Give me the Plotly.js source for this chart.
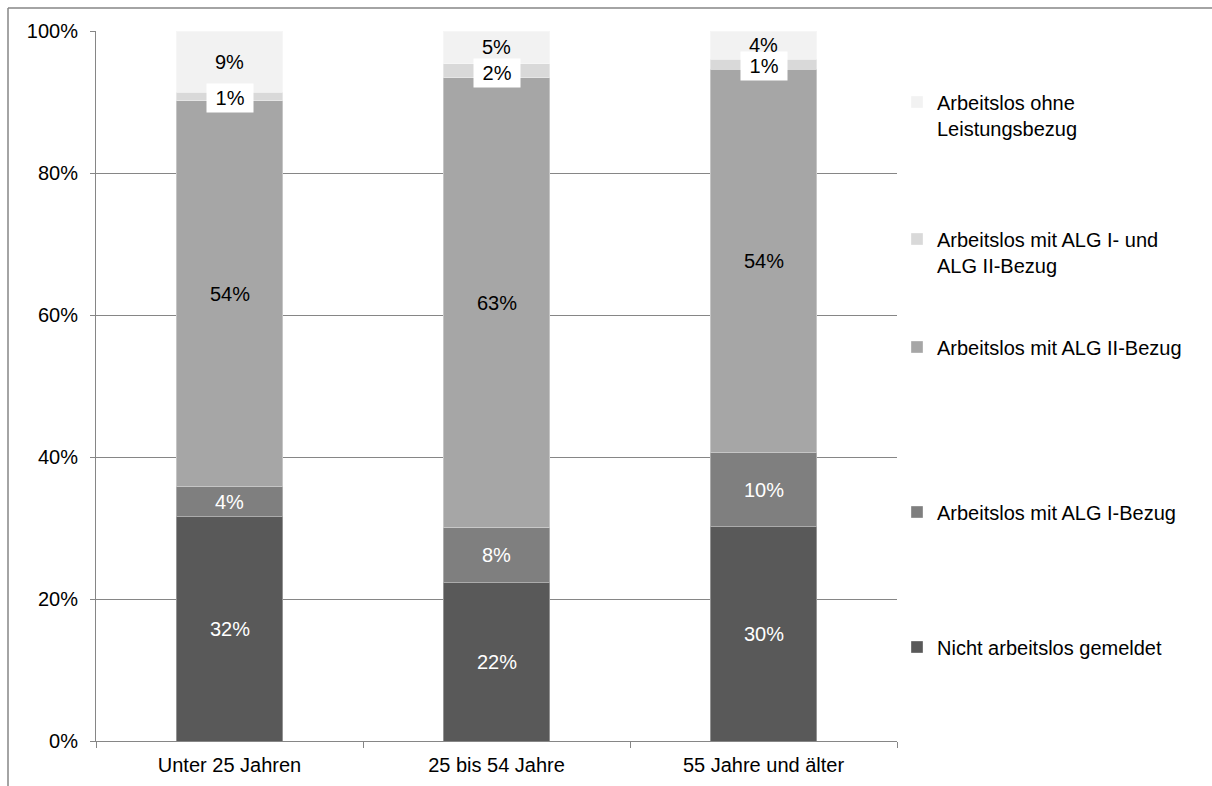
<!DOCTYPE html>
<html>
<head>
<meta charset="utf-8">
<script src="https://cdn.plot.ly/plotly-3.0.1.min.js"></script>
<style>html,body{margin:0;padding:0;background:#fff;}#chart{width:1212px;height:786px;}</style>
</head>
<body>
<div id="chart"></div>
<script>
// ---- data ----
const categories = ["Unter 25 Jahren", "25 bis 54 Jahre", "55 Jahre und älter"];
const seriesNames = [
  "Nicht arbeitslos gemeldet",
  "Arbeitslos mit ALG I-Bezug",
  "Arbeitslos mit ALG II-Bezug",
  "Arbeitslos mit ALG I- und<br>ALG II-Bezug",
  "Arbeitslos ohne<br>Leistungsbezug"
];
const nichtArbeitslos = [31.6, 22.3, 30.2];
const algI = [4.2, 7.8, 10.4];
const algII = [54.4, 63.3, 54.0];
const algIundII = [1.2, 2.0, 1.4];
const ohneLeistung = [8.6, 4.6, 4.0];
const yTicks = [0, 20, 40, 60, 80, 100];
const yTickLabels = ["0%", "20%", "40%", "60%", "80%", "100%"];

// ---- styles ----
const seriesValues = [nichtArbeitslos, algI, algII, algIundII, ohneLeistung];
const colors = ["#595959", "#7f7f7f", "#a6a6a6", "#d9d9d9", "#f2f2f2"];
const labelColors = ["#ffffff", "#ffffff", "#000000", "#000000", "#000000"];
const labelBg = [null, null, null, "#ffffff", null];
const FONT = "Arial, 'Liberation Sans', Helvetica, sans-serif";
const FS = 20;
// legend centre positions in paper coords (plot area y 31..741 px)
const legendY = [(741-647)/710, (741-512)/710, (741-347)/710, (741-252)/710, (741-115)/710];

const traces = seriesValues.map((vals, i) => ({
  type: "bar",
  x: categories,
  y: vals,
  name: seriesNames[i],
  marker: {color: colors[i], line: {color: "rgba(255,255,255,0.35)", width: 1}},
  legend: i === 0 ? "legend" : "legend" + (i + 1),
  hoverinfo: "skip"
}));

const annotations = [];
categories.forEach((cat, ci) => {
  let base = 0;
  seriesValues.forEach((vals, si) => {
    const v = vals[ci];
    const txt = Math.round(v) + "%";
    const a = {
      x: cat, y: base + v / 2, xref: "x", yref: "y",
      text: labelBg[si] ? "\u00a0" + txt + "\u00a0" : txt,
      showarrow: false,
      font: {family: FONT, size: FS, color: labelColors[si]}
    };
    if (labelBg[si]) { a.bgcolor = labelBg[si]; a.borderpad = 3; a.yshift = -2; }
    annotations.push(a);
    base += v;
  });
});

const layout = {
  width: 1212, height: 786,
  margin: {l: 96, r: 315, t: 31, b: 45, pad: 0},
  paper_bgcolor: "#ffffff", plot_bgcolor: "#ffffff",
  font: {family: FONT, size: FS, color: "#000000"},
  barmode: "stack",
  bargap: 0.6,
  showlegend: true,
  xaxis: {
    type: "category",
    showline: true, linecolor: "#868686", linewidth: 1,
    ticks: "outside", tickson: "boundaries", ticklen: 6, tickcolor: "#868686",
    tickfont: {family: FONT, size: FS, color: "#000"},
    ticklabelstandoff: 6,
    showgrid: false, zeroline: false, fixedrange: true
  },
  yaxis: {
    range: [0, 100],
    tickvals: yTicks, ticktext: yTickLabels,
    showline: true, linecolor: "#868686", linewidth: 1,
    ticks: "outside", ticklen: 5, tickcolor: "#868686",
    showgrid: true, gridcolor: "#868686", gridwidth: 1,
    zeroline: false,
    tickfont: {family: FONT, size: FS, color: "#000"},
    ticklabelstandoff: 8,
    fixedrange: true
  },
  annotations: annotations,
  shapes: [
    {type: "line", xref: "paper", yref: "paper", x0: (8-96)/801, x1: 1.5, y0: (741-8)/710, y1: (741-8)/710, line: {color: "#868686", width: 1.5}},
    {type: "line", xref: "paper", yref: "paper", x0: (8-96)/801, x1: (8-96)/801, y0: (741-8)/710, y1: -0.2, line: {color: "#868686", width: 1.5}}
  ]
};
const legendBase = {
  xref: "paper", yref: "paper",
  x: (897-96)/801, xanchor: "left", yanchor: "middle",
  bgcolor: "rgba(0,0,0,0)", borderwidth: 0,
  font: {family: FONT, size: FS, color: "#000"},
  valign: "top", itemwidth: 30
};
["legend", "legend2", "legend3", "legend4", "legend5"].forEach((k, i) => {
  layout[k] = Object.assign({}, legendBase, {y: legendY[i]});
});

Plotly.newPlot("chart", traces, layout, {displayModeBar: false, staticPlot: true});
</script>
</body>
</html>
